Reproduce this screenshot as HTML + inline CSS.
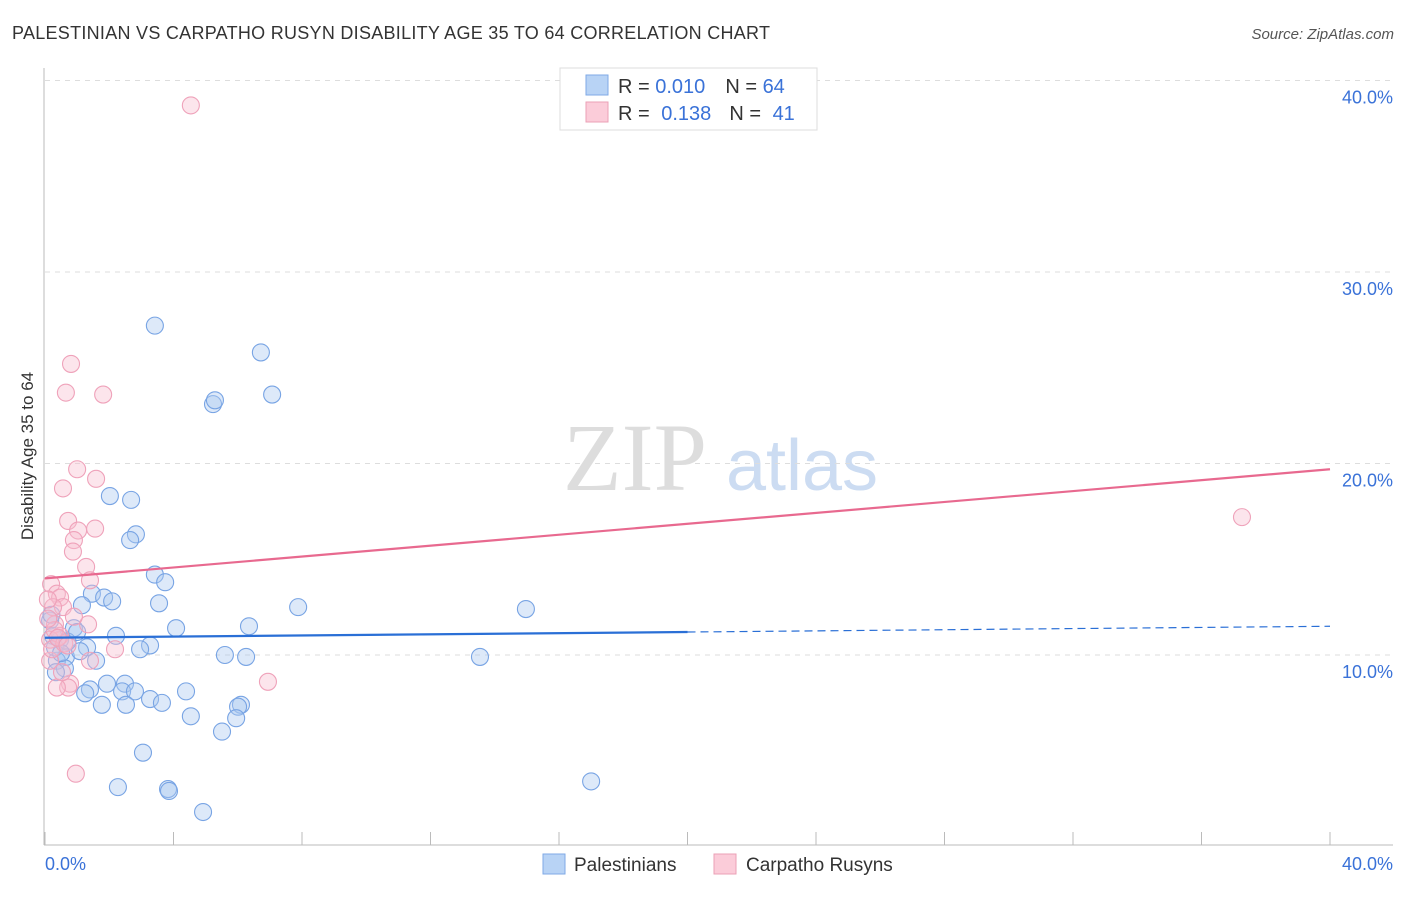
<!DOCTYPE html>
<html><head><meta charset="utf-8"><style>
body{margin:0;background:#fff;font-family:"Liberation Sans",sans-serif;}
svg text{font-family:"Liberation Sans",sans-serif;}
</style></head><body>
<svg id="chart" width="1406" height="892" viewBox="0 0 1406 892">
<text x="12" y="39" font-size="18" fill="#333" textLength="758">PALESTINIAN VS CARPATHO RUSYN DISABILITY AGE 35 TO 64 CORRELATION CHART</text>
<text x="1394" y="39" font-size="15" fill="#555" font-style="italic" text-anchor="end">Source: ZipAtlas.com</text>
<g>
<text x="635" y="490" font-size="96" fill="#ddd" font-family="Liberation Serif" text-anchor="middle" style="font-family:'Liberation Serif',serif">ZIP</text>
<text x="802" y="490" font-size="72" fill="#ccdcf2" text-anchor="middle">atlas</text>
</g>
<g id="grid"></g>
<g id="axes"></g>
<g id="pts"></g>
<g id="trend"></g>
<text transform="translate(33,456) rotate(-90)" font-size="17" fill="#333" text-anchor="middle">Disability Age 35 to 64</text>
<text x="45" y="870" font-size="18" fill="#3a72d8">0.0%</text>
<text x="1393" y="870" font-size="18" fill="#3a72d8" text-anchor="end">40.0%</text>
<g>
<rect x="560" y="68" width="257" height="62" fill="#fff" stroke="#ddd"/>
<rect x="586" y="75" width="22" height="20" fill="#b8d3f5" stroke="#7fa9e6"/>
<rect x="586" y="102" width="22" height="20" fill="#fbccd9" stroke="#eba0b6"/>
<text x="618" y="93" font-size="20" fill="#333">R = <tspan fill="#3a72d8">0.010</tspan><tspan dx="20">N = </tspan><tspan fill="#3a72d8">64</tspan></text>
<text x="618" y="120" font-size="20" fill="#333">R = <tspan fill="#3a72d8" dx="6">0.138</tspan><tspan dx="18">N = </tspan><tspan fill="#3a72d8" dx="6">41</tspan></text>
</g>
<g>
<rect x="543" y="854" width="22" height="20" fill="#b8d3f5" stroke="#7fa9e6"/>
<text x="574" y="871" font-size="19" fill="#333">Palestinians</text>
<rect x="714" y="854" width="22" height="20" fill="#fbccd9" stroke="#eba0b6"/>
<text x="746" y="871" font-size="19" fill="#333">Carpatho Rusyns</text>
</g>
</svg>
<script>
const yTicks=[10,20,30,40];
const yTickLabels=["10.0%","20.0%","30.0%","40.0%"];
const xTicks=[0,4,8,12,16,20,24,28,32,36,40];
const blueX=[3.42,6.72,5.23,5.29,7.07,2.02,2.68,2.83,2.65,3.42,3.74,1.46,1.84,2.09,1.15,3.55,7.88,14.97,6.35,4.08,0.90,2.21,0.47,3.27,2.96,1.31,5.60,6.26,13.54,0.65,1.09,1.59,0.37,0.62,0.34,2.49,1.93,1.40,4.39,2.40,2.80,1.25,3.27,3.64,1.77,2.52,6.10,6.01,4.54,5.95,5.51,3.05,17.0,2.27,3.83,3.86,4.92,0.16,0.25,0.31,0.70,0.20,1.0,0.5];
const blueY=[27.2,25.8,23.1,23.3,23.6,18.3,18.1,16.3,16.0,14.2,13.8,13.2,13.0,12.8,12.6,12.7,12.5,12.4,11.5,11.4,11.4,11.0,10.8,10.5,10.3,10.4,10.0,9.9,9.9,9.9,10.2,9.7,9.7,9.3,9.1,8.5,8.5,8.2,8.1,8.1,8.1,8.0,7.7,7.5,7.4,7.4,7.4,7.3,6.8,6.7,6.0,4.9,3.4,3.1,3.0,2.9,1.8,11.8,11.0,10.4,10.7,12.1,11.2,10.1];
const pinkX=[4.54,0.81,0.65,1.81,1.00,1.59,0.56,0.72,37.26,1.56,1.03,0.90,0.87,1.28,1.40,0.19,0.37,0.47,0.56,1.34,0.25,0.31,0.47,2.18,1.40,6.94,0.78,0.72,0.37,0.96,0.16,0.16,0.09,0.22,0.53,0.6,0.3,0.9,0.1,0.4,0.7];
const pinkY=[38.7,25.2,23.7,23.6,19.7,19.2,18.7,17.0,17.2,16.6,16.5,16.0,15.4,14.6,13.9,13.7,13.2,13.0,12.5,11.6,12.5,11.6,11.0,10.3,9.7,8.6,8.5,8.3,8.3,3.8,10.8,9.7,12.9,10.3,9.1,10.6,11.3,12.0,11.9,10.9,10.5];
const blueTrend=[10.9,11.5]; // value at x=0 and x=40
const pinkTrend=[14.0,19.7];
const blueSolidEnd=20;
const sx=v=>45+v*32.125, sy=v=>846.5-v*19.15;
const NS="http://www.w3.org/2000/svg";
function mk(tag,attrs,parent){const e=document.createElementNS(NS,tag);for(const k in attrs)e.setAttribute(k,attrs[k]);document.getElementById(parent).appendChild(e);return e;}
yTicks.forEach((t,i)=>{
 const l=mk('line',{x1:45,x2:1393,y1:sy(t),y2:sy(t),stroke:'#ddd','stroke-dasharray':'5,5'},'grid');
 
 
 const tx=mk('text',{x:1393,y:sy(t)+23,'font-size':18,fill:'#3a72d8','text-anchor':'end'},'grid');
 tx.textContent=yTickLabels[i];
 
 
});
const ya=mk('line',{x1:44,x2:44,y1:68,y2:845,stroke:'#bbb'},'axes');


const xa=mk('line',{x1:44,x2:1393,y1:845,y2:845,stroke:'#bbb'},'axes');


xTicks.forEach(t=>{const l=mk('line',{x1:sx(t),x2:sx(t),y1:832,y2:845,stroke:'#bbb'},'axes');
 
 });
blueX.forEach((x,i)=>{const c=mk('circle',{cx:sx(x),cy:sy(blueY[i]),r:8.5,fill:'rgba(170,200,240,0.4)',stroke:'#78a4e4','stroke-width':1.1},'pts');
 
 });
pinkX.forEach((x,i)=>{const c=mk('circle',{cx:sx(x),cy:sy(pinkY[i]),r:8.5,fill:'rgba(248,190,208,0.4)',stroke:'#efa2ba','stroke-width':1.1},'pts');
 
 });
const bAt=x=>blueTrend[0]+(blueTrend[1]-blueTrend[0])*x/40;
const b1=mk('line',{x1:sx(0),y1:sy(bAt(0)),x2:sx(blueSolidEnd),y2:sy(bAt(blueSolidEnd)),stroke:'#2a6fd6','stroke-width':2.2},'trend');


const b2=mk('line',{x1:sx(blueSolidEnd),y1:sy(bAt(blueSolidEnd)),x2:sx(40),y2:sy(bAt(40)),stroke:'#2a6fd6','stroke-width':1.2,'stroke-dasharray':'8,5'},'trend');


const p1=mk('line',{x1:sx(0),y1:sy(pinkTrend[0]),x2:sx(40),y2:sy(pinkTrend[1]),stroke:'#e8698f','stroke-width':2.2},'trend');


</script>
</body></html>
